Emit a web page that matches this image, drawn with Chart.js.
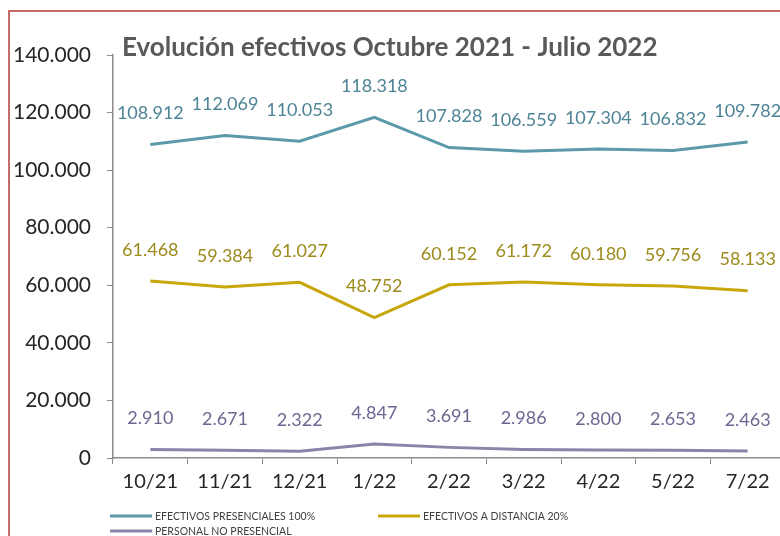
<!DOCTYPE html>
<html>
<head>
<meta charset="utf-8">
<script src="https://cdn.jsdelivr.net/npm/chart.js@4.4.1/dist/chart.umd.min.js"></script>
<style>
  html, body { margin: 0; padding: 0; background: #fff; overflow: hidden; }
  #wrap { position: relative; width: 780px; height: 536px; overflow: hidden; }
  #frame { position: absolute; left: 8px; top: 10px; width: 800px; height: 600px; border-left: 2px solid #c96a6a; border-top: 2px solid #c96a6a; box-sizing: border-box; pointer-events: none; }
  #box { position: absolute; left: 0; top: 0; width: 800px; height: 536px; }
</style>
</head>
<body>
<div id="wrap">
  <div id="box"><canvas id="metricChart" width="800" height="536"></canvas></div>
  <div id="frame"></div>
</div>
<script>
const months = ["10/21", "11/21", "12/21", "1/22", "2/22", "3/22", "4/22", "5/22", "7/22"];
const presenciales = [108912, 112069, 110053, 118318, 107828, 106559, 107304, 106832, 109782];
const distancia = [61468, 59384, 61027, 48752, 60152, 61172, 60180, 59756, 58133];
const noPresencial = [2910, 2671, 2322, 4847, 3691, 2986, 2800, 2653, 2463];
const yTicks = [0, 20000, 40000, 60000, 80000, 100000, 120000, 140000];
const chartTitle = "Evolución efectivos Octubre 2021 - Julio 2022";

const fmt = (v) => String(v).replace(/\B(?=(\d{3})+(?!\d))/g, ".");
const FONT = "Lato, 'Open Sans', sans-serif";

// data labels, title and legend drawn by hand (no plugins available offline)
const extras = {
  id: "extras",
  afterDatasetsDraw(chart) {
    const ctx = chart.ctx;
    ctx.save();
    ctx.textAlign = "center";
    ctx.textBaseline = "middle";
    ctx.font = "18px " + FONT;
    chart.data.datasets.forEach((ds, i) => {
      const meta = chart.getDatasetMeta(i);
      ctx.fillStyle = ds.labelColor;
      meta.data.forEach((pt, j) => {
        ctx.fillText(fmt(ds.data[j]), pt.x, pt.y - 31);
      });
    });
    ctx.restore();
  },
  afterDraw(chart) {
    const ctx = chart.ctx;
    const left = chart.chartArea.left;
    ctx.save();
    ctx.font = "bold 26px " + FONT;
    ctx.fillStyle = "#595959";
    ctx.textBaseline = "middle";
    ctx.textAlign = "left";
    ctx.fillText(chartTitle, left + 9, 48);

    // legend: two columns
    const pos = [[left - 3, 516], [left + 265, 516], [left - 3, 531]];
    ctx.font = "10.5px " + FONT;
    chart.data.datasets.forEach((ds, i) => {
      const [x, y] = pos[i];
      ctx.strokeStyle = ds.borderColor;
      ctx.lineWidth = 3;
      ctx.beginPath();
      ctx.moveTo(x, y);
      ctx.lineTo(x + 42, y);
      ctx.stroke();
      ctx.fillStyle = "#404040";
      ctx.fillText(ds.label, x + 45, y + 1);
    });
    ctx.restore();
  }
};

const ctx = document.getElementById("metricChart").getContext("2d");
new Chart(ctx, {
  type: "line",
  data: {
    labels: months,
    datasets: [
      { label: "EFECTIVOS PRESENCIALES 100%", data: presenciales, borderColor: "#5b99ab", labelColor: "#4d8496" },
      { label: "EFECTIVOS A DISTANCIA 20%", data: distancia, borderColor: "#c8a70c", labelColor: "#9d8a1c" },
      { label: "PERSONAL NO PRESENCIAL", data: noPresencial, borderColor: "#8a84a8", labelColor: "#6c6791" }
    ]
  },
  options: {
    responsive: false,
    animation: false,
    devicePixelRatio: 1,
    elements: {
      line: { borderWidth: 3, tension: 0 },
      point: { radius: 0 }
    },
    layout: { padding: { top: 55, right: 15, left: 0, bottom: 0 } },
    plugins: { legend: { display: false }, title: { display: false }, tooltip: { enabled: false } },
    scales: {
      x: {
        offset: true,
        grid: { offset: true, drawOnChartArea: false, tickLength: 6, color: "#8c8c8c" },
        border: { color: "#8c8c8c", width: 1.5 },
        ticks: { font: { family: FONT, size: 20 }, color: "#262626", padding: 6, maxRotation: 0, autoSkip: false },
        afterFit(s) { s.height = 78; }
      },
      y: {
        min: 0,
        max: 140000,
        afterBuildTicks(s) { s.ticks = yTicks.map(v => ({ value: v })); },
        grid: { drawOnChartArea: false, tickLength: 6, color: "#8c8c8c" },
        border: { color: "#8c8c8c", width: 1.5 },
        ticks: { font: { family: FONT, size: 21 }, color: "#262626", padding: 16, callback: (v) => fmt(v) },
        afterFit(s) { s.width = 113; }
      }
    }
  },
  plugins: [extras]
});
</script>
</body>
</html>
